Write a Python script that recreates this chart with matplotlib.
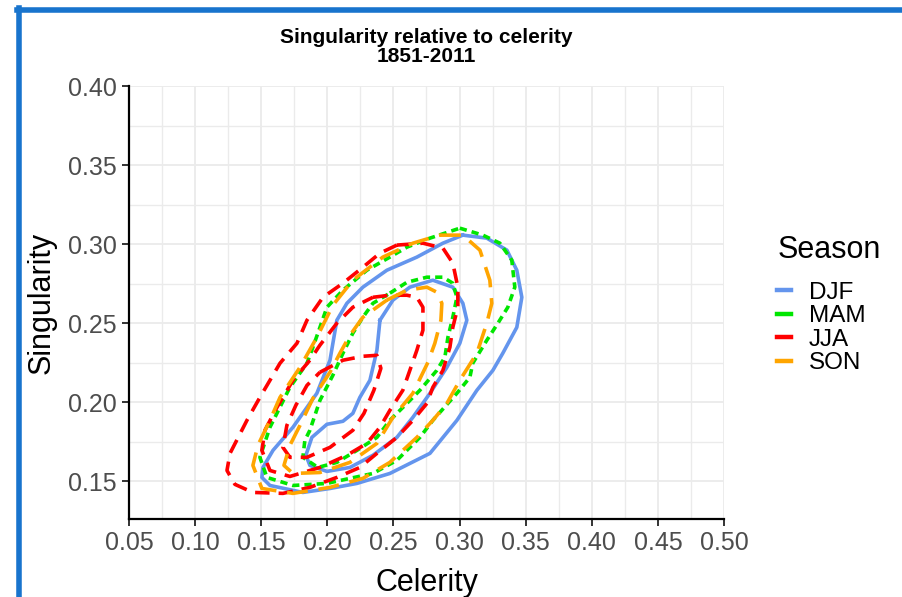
import numpy as np
import matplotlib
matplotlib.use("Agg")
import matplotlib.pyplot as plt
from matplotlib.lines import Line2D
from matplotlib.ticker import MultipleLocator

plt.rcParams['font.family'] = ['Liberation Sans', 'DejaVu Sans']

# Seasons and styles
seasons = ["DJF", "MAM", "JJA", "SON"]
colors = ["#6495ED", "#00E600", "#FF0000", "#FFA500"]

x_ticks = [0.05, 0.10, 0.15, 0.20, 0.25, 0.30, 0.35, 0.40, 0.45, 0.50]
y_ticks = [0.15, 0.20, 0.25, 0.30, 0.35, 0.40]

# density contour lines: (celerity, singularity)
djf_outer = [(0.3025, 0.3057), (0.3206, 0.3038), (0.3358, 0.2962), (0.3433, 0.2835),
             (0.3471, 0.2664), (0.3433, 0.2474), (0.3327, 0.2310), (0.3252, 0.2202),
             (0.3131, 0.2076), (0.2980, 0.1886), (0.2776, 0.1677), (0.2473, 0.1550),
             (0.2224, 0.1487), (0.2020, 0.1455), (0.1815, 0.1430), (0.1566, 0.1474),
             (0.1505, 0.1525), (0.1513, 0.1588), (0.1589, 0.1696), (0.1740, 0.1842),
             (0.1921, 0.2057), (0.2020, 0.2266), (0.2072, 0.2519), (0.2148, 0.2626),
             (0.2269, 0.2728), (0.2450, 0.2835), (0.2677, 0.2918), (0.2874, 0.3006)]
djf_inner = [(0.2398, 0.2519), (0.2496, 0.2646), (0.2624, 0.2728), (0.2798, 0.2772),
             (0.2949, 0.2728), (0.3025, 0.2626), (0.3055, 0.2519), (0.3002, 0.2373),
             (0.2904, 0.2221), (0.2776, 0.2057), (0.2647, 0.1905), (0.2526, 0.1778),
             (0.2345, 0.1665), (0.2171, 0.1588), (0.1997, 0.1563), (0.1868, 0.1601),
             (0.1838, 0.1665), (0.1883, 0.1778), (0.1997, 0.1861), (0.2118, 0.1880),
             (0.2193, 0.1930), (0.2246, 0.2031), (0.2322, 0.2139), (0.2375, 0.2329)]

mam_outer = [(0.3002, 0.3101), (0.3176, 0.3057), (0.3305, 0.3006), (0.3395, 0.2899),
             (0.3418, 0.2728), (0.3365, 0.2601), (0.3290, 0.2500), (0.3206, 0.2392),
             (0.3100, 0.2247), (0.3078, 0.2158), (0.2980, 0.2057), (0.2798, 0.1886),
             (0.2700, 0.1778), (0.2526, 0.1633), (0.2345, 0.1550), (0.2171, 0.1519),
             (0.1997, 0.1487), (0.1740, 0.1474), (0.1543, 0.1525), (0.1490, 0.1652),
             (0.1566, 0.1842), (0.1717, 0.2095), (0.1846, 0.2247), (0.1891, 0.2348),
             (0.1944, 0.2474), (0.1997, 0.2601), (0.2118, 0.2709), (0.2299, 0.2835),
             (0.2473, 0.2918), (0.2602, 0.2981), (0.2776, 0.3038)]
mam_inner = [(0.2473, 0.2690), (0.2602, 0.2759), (0.2753, 0.2791), (0.2874, 0.2791),
             (0.2949, 0.2753), (0.2980, 0.2664), (0.2949, 0.2538), (0.2912, 0.2411),
             (0.2889, 0.2285), (0.2828, 0.2202), (0.2700, 0.2076), (0.2602, 0.1993),
             (0.2473, 0.1886), (0.2375, 0.1778), (0.2224, 0.1696), (0.2072, 0.1620),
             (0.1929, 0.1588), (0.1815, 0.1652), (0.1830, 0.1759), (0.1868, 0.1823),
             (0.1944, 0.2012), (0.2042, 0.2171), (0.2118, 0.2310), (0.2193, 0.2437),
             (0.2269, 0.2538), (0.2345, 0.2626)]

jja_outer = [(0.2526, 0.2994), (0.2723, 0.3006), (0.2874, 0.2975), (0.2949, 0.2880),
             (0.2987, 0.2728), (0.2987, 0.2601), (0.2949, 0.2474), (0.2927, 0.2348),
             (0.2874, 0.2202), (0.2798, 0.2095), (0.2753, 0.1993), (0.2647, 0.1886),
             (0.2526, 0.1778), (0.2375, 0.1677), (0.2246, 0.1588), (0.2072, 0.1525),
             (0.1868, 0.1462), (0.1664, 0.1424), (0.1437, 0.1430), (0.1301, 0.1481),
             (0.1241, 0.1569), (0.1264, 0.1677), (0.1392, 0.1886), (0.1490, 0.2031),
             (0.1642, 0.2247), (0.1770, 0.2373), (0.1846, 0.2519), (0.1967, 0.2664),
             (0.2118, 0.2753), (0.2269, 0.2854), (0.2398, 0.2943)]
jja_mid = [(0.2345, 0.2664), (0.2473, 0.2677), (0.2602, 0.2677), (0.2677, 0.2664),
           (0.2723, 0.2601), (0.2723, 0.2456), (0.2677, 0.2329), (0.2624, 0.2202),
           (0.2571, 0.2076), (0.2473, 0.1949), (0.2398, 0.1842), (0.2299, 0.1740),
           (0.2148, 0.1665), (0.1944, 0.1588), (0.1717, 0.1531), (0.1566, 0.1569),
           (0.1505, 0.1696), (0.1528, 0.1823), (0.1619, 0.1968), (0.1740, 0.2139),
           (0.1868, 0.2266), (0.1944, 0.2361), (0.2072, 0.2500), (0.2193, 0.2601)]
jja_inner = [(0.1944, 0.2190), (0.2118, 0.2266), (0.2269, 0.2291), (0.2375, 0.2297),
             (0.2405, 0.2215), (0.2352, 0.2076), (0.2277, 0.1930), (0.2193, 0.1823),
             (0.2020, 0.1715), (0.1846, 0.1652), (0.1717, 0.1652), (0.1664, 0.1715),
             (0.1694, 0.1854), (0.1762, 0.1981), (0.1846, 0.2107)]

son_outer = [(0.2851, 0.3057), (0.3025, 0.3057), (0.3154, 0.2962), (0.3229, 0.2772),
             (0.3244, 0.2626), (0.3206, 0.2500), (0.3131, 0.2310), (0.3002, 0.2139),
             (0.2904, 0.1993), (0.2798, 0.1886), (0.2677, 0.1778), (0.2473, 0.1620),
             (0.2269, 0.1519), (0.2020, 0.1462), (0.1740, 0.1424), (0.1505, 0.1455),
             (0.1437, 0.1601), (0.1475, 0.1728), (0.1566, 0.1886), (0.1642, 0.2031),
             (0.1793, 0.2221), (0.1921, 0.2411), (0.2042, 0.2614), (0.2193, 0.2772),
             (0.2420, 0.2918), (0.2647, 0.3006)]
son_inner = [(0.2450, 0.2646), (0.2602, 0.2709), (0.2753, 0.2728), (0.2828, 0.2696),
             (0.2866, 0.2626), (0.2859, 0.2519), (0.2813, 0.2373), (0.2761, 0.2253),
             (0.2647, 0.2057), (0.2496, 0.1905), (0.2375, 0.1740), (0.2171, 0.1620),
             (0.1944, 0.1556), (0.1740, 0.1550), (0.1672, 0.1601), (0.1717, 0.1728),
             (0.1793, 0.1854), (0.1891, 0.2025), (0.2020, 0.2190), (0.2095, 0.2310),
             (0.2171, 0.2424), (0.2269, 0.2538)]

contours = {"DJF": [djf_outer, djf_inner],
            "MAM": [mam_outer, mam_inner],
            "JJA": [jja_outer, jja_mid, jja_inner],
            "SON": [son_outer, son_inner]}

dashes = {"DJF": None, "MAM": (2.0, 1.4), "JJA": (4.0, 2.5), "SON": (5.8, 3.0)}

fig = plt.figure(figsize=(9.03, 5.97), dpi=100)
ax = fig.add_axes([129/903, 1-519/597, 595/903, 433/597])

for s, c in zip(seasons, colors):
    for line in contours[s]:
        pts = np.array(line + [line[0]])
        l, = ax.plot(pts[:, 0], pts[:, 1], color=c, lw=2.6,
                     solid_joinstyle='round', dash_joinstyle='round',
                     dash_capstyle='butt', zorder=3)
        if dashes[s] is not None:
            l.set_dashes(dashes[s])

ax.set_xlim(0.05, 0.50)
ax.set_ylim(0.1262, 0.40)
ax.set_xticks(x_ticks)
ax.set_xticklabels(["%.2f" % v for v in x_ticks])
ax.set_yticks(y_ticks)
ax.set_yticklabels(["%.2f" % v for v in y_ticks])
ax.xaxis.set_minor_locator(MultipleLocator(0.025))
ax.yaxis.set_minor_locator(MultipleLocator(0.025))
ax.grid(which='major', color='#EBEBEB', lw=1.3, zorder=0)
ax.grid(which='minor', color='#EBEBEB', lw=1.0, zorder=0)
ax.set_axisbelow(True)

for sp in ['top', 'right']:
    ax.spines[sp].set_visible(False)
for sp in ['left', 'bottom']:
    ax.spines[sp].set_linewidth(1.6)
    ax.spines[sp].set_color('black')
ax.tick_params(which='major', length=5, width=1.4, color='#333333',
               labelsize=18, labelcolor='#4D4D4D', pad=4)
ax.tick_params(which='minor', length=0)

ax.set_xlabel("Celerity", fontsize=22, labelpad=9)
ax.set_ylabel("Singularity", fontsize=22, labelpad=8)
ax.set_title("Singularity relative to celerity\n1851-2011", fontsize=15,
             fontweight='bold', linespacing=1.05, pad=17)

handles = [Line2D([0], [0], color=c, lw=3.2) for c in colors]
leg = ax.legend(handles, seasons, title="Season", loc='upper left',
                bbox_to_anchor=(765/903, 1-223/597), bbox_transform=fig.transFigure,
                frameon=False, fontsize=17.5, title_fontsize=22, handlelength=0.55,
                handletextpad=0.75, labelspacing=0.06, borderpad=0,
                alignment='left')
leg._legend_box.sep = 12

# blue frame of the screenshot
fig.add_artist(Line2D([19.5/903, 19.5/903], [0, 1-8/597], color='#1874CD', lw=4,
                      transform=fig.transFigure))
fig.add_artist(Line2D([17.5/903, 1], [1-10/597, 1-10/597], color='#1874CD', lw=4,
                      transform=fig.transFigure))

fig.savefig("out.png", dpi=100)
